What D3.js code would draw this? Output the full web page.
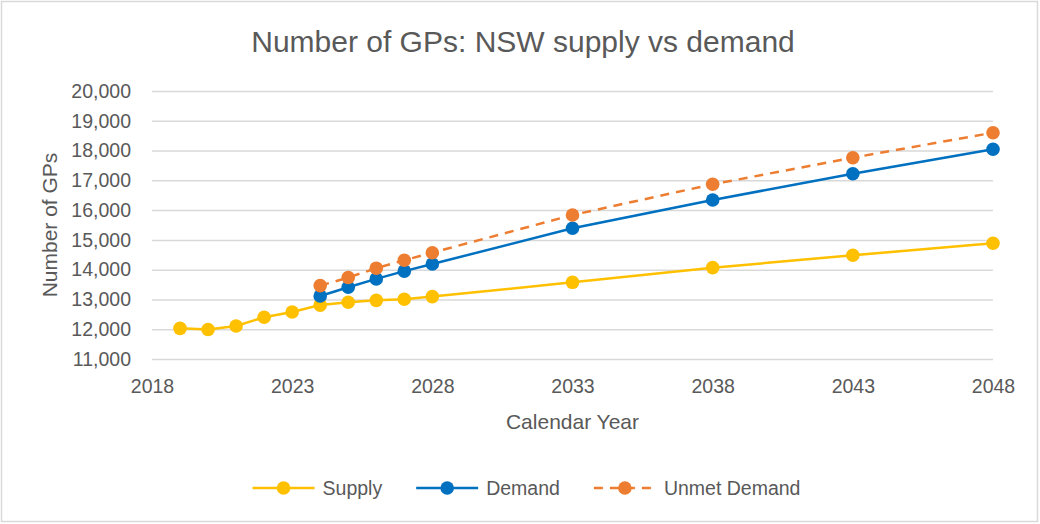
<!DOCTYPE html>
<html>
<head>
<meta charset="utf-8">
<script src="https://cdn.jsdelivr.net/npm/d3@7"></script>
<style>
  body { margin:0; background:#fff; }
  svg text { font-family: "Liberation Sans", Arial, sans-serif; fill:#595959; }
</style>
</head>
<body>
<div id="content"></div>
<script>
// values
const supplyYears = [2019, 2020, 2021, 2022, 2023, 2024, 2025, 2026, 2027, 2028, 2033, 2038, 2043, 2048];
const supplyValues = [12030, 11990, 12110, 12400, 12580, 12810, 12905, 12970, 13005, 13095, 13575, 14067, 14483, 14886];

const demandYears = [2024, 2025, 2026, 2027, 2028, 2033, 2038, 2043, 2048];
const demandValues = [13115, 13410, 13690, 13950, 14190, 15390, 16340, 17223, 18042];
const unmetValues = [13465, 13735, 14050, 14315, 14570, 15836, 16867, 17760, 18600];

const xTicks = [2018, 2023, 2028, 2033, 2038, 2043, 2048];
const yTicks = [11000, 12000, 13000, 14000, 15000, 16000, 17000, 18000, 19000, 20000];

const seriesNames = ["Supply", "Demand", "Unmet Demand"];
const seriesColors = ["#FFC000", "#0070C0", "#ED7D31"];

var config = {
  width: 1040,
  height: 524,
  margin: {top: 91, right: 47, bottom: 165, left: 152}
};

const series = [
  {name: seriesNames[0], color: seriesColors[0], dash: null,
   points: supplyYears.map((yr, i) => ({year: yr, val: supplyValues[i]}))},
  {name: seriesNames[1], color: seriesColors[1], dash: null,
   points: demandYears.map((yr, i) => ({year: yr, val: demandValues[i]}))},
  {name: seriesNames[2], color: seriesColors[2], dash: "9,7",
   points: demandYears.map((yr, i) => ({year: yr, val: unmetValues[i]}))}
];

const svg = d3.select("#content").append("svg")
  .attr("width", config.width)
  .attr("height", config.height);

// outer frame
svg.append("rect")
  .attr("x", 1.5).attr("y", 1.5)
  .attr("width", config.width - 4).attr("height", config.height - 4)
  .attr("fill", "#fff")
  .attr("stroke", "#d9d9d9")
  .attr("stroke-width", 1.5);

const plotW = config.width - config.margin.left - config.margin.right;
const plotH = config.height - config.margin.top - config.margin.bottom;

const x = d3.scaleLinear().domain([2018, 2048]).range([0, plotW]);
const y = d3.scaleLinear().domain([11000, 20000]).range([plotH, 0]);

const chart = svg.append("g")
  .attr("transform", `translate(${config.margin.left},${config.margin.top})`);

// y axis + gridlines
const yAxis = chart.append("g")
  .call(d3.axisLeft(y).tickValues(yTicks).tickSize(-plotW).tickPadding(21)
    .tickFormat(d3.format(",")));
yAxis.select(".domain").remove();
yAxis.selectAll(".tick line").attr("stroke", "#d9d9d9").attr("stroke-width", 1.5);
yAxis.selectAll(".tick text").style("font-size", "19.5px").attr("fill", "#595959");

// x axis labels
const xAxis = chart.append("g")
  .attr("transform", `translate(0,${plotH})`)
  .call(d3.axisBottom(x).tickValues(xTicks).tickSize(0).tickPadding(20)
    .tickFormat(d3.format("d")));
xAxis.select(".domain").remove();
xAxis.selectAll(".tick text").style("font-size", "19.5px").attr("fill", "#595959");

// lines
const line = d3.line().x(d => x(d.year)).y(d => y(d.val));

series.forEach(s => {
  chart.append("path")
    .datum(s.points)
    .attr("fill", "none")
    .attr("stroke", s.color)
    .attr("stroke-width", 2.5)
    .attr("stroke-dasharray", s.dash)
    .attr("d", line);
});

series.forEach(s => {
  chart.selectAll(null)
    .data(s.points)
    .enter()
    .append("circle")
    .attr("cx", d => x(d.year))
    .attr("cy", d => y(d.val))
    .attr("r", 6.8)
    .attr("fill", s.color);
});

// titles
svg.append("text")
  .attr("x", 523).attr("y", 52)
  .attr("text-anchor", "middle")
  .style("font-size", "30px")
  .text("Number of GPs: NSW supply vs demand");

svg.append("text")
  .attr("x", config.margin.left + plotW / 2).attr("y", 429)
  .attr("text-anchor", "middle")
  .style("font-size", "21px")
  .text("Calendar Year");

svg.append("text")
  .attr("transform", `translate(57,${config.margin.top + plotH / 2}) rotate(-90)`)
  .attr("text-anchor", "middle")
  .style("font-size", "21px")
  .text("Number of GPs");

// legend
const legend = svg.append("g");
let lx = 0;
series.forEach(s => {
  const item = legend.append("g").attr("transform", `translate(${lx},0)`);
  item.append("line")
    .attr("x1", 0).attr("x2", 62)
    .attr("y1", 0).attr("y2", 0)
    .attr("stroke", s.color)
    .attr("stroke-width", 2.5)
    .attr("stroke-dasharray", s.dash);
  item.append("circle")
    .attr("cx", 31).attr("cy", 0).attr("r", 6.8)
    .attr("fill", s.color);
  const t = item.append("text")
    .attr("x", 70).attr("y", 7)
    .style("font-size", "19.5px")
    .text(s.name);
  lx += 70 + t.node().getComputedTextLength() + 34;
});
const legendW = lx - 34;
legend.attr("transform", `translate(${526.5 - legendW / 2},488)`);
</script>
</body>
</html>
